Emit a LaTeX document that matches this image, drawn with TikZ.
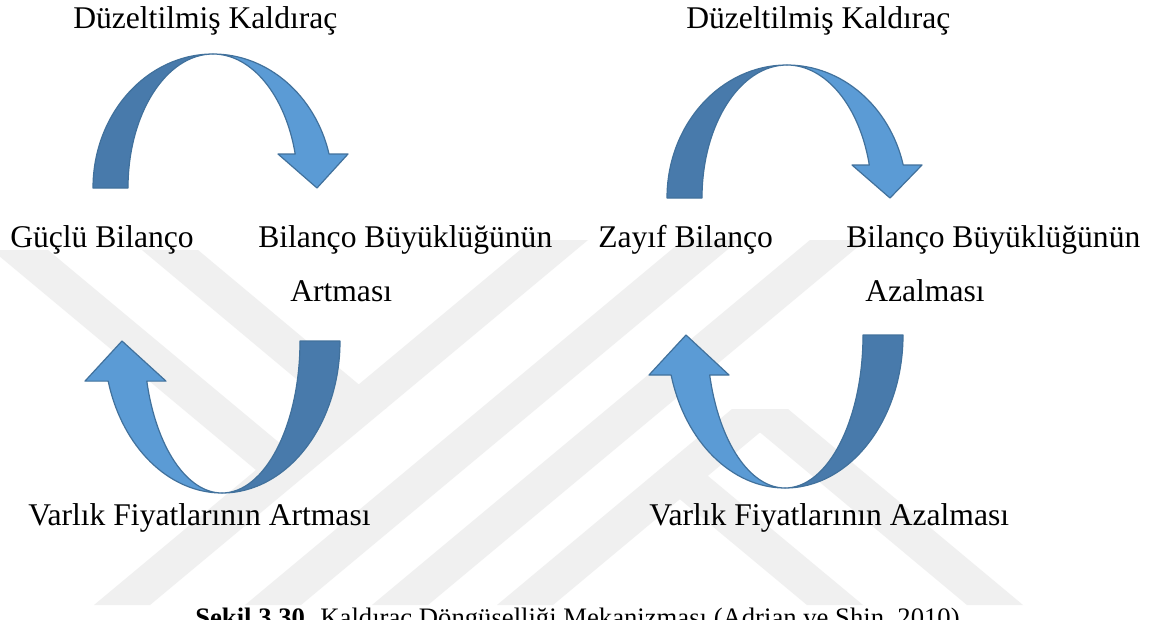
\documentclass[tikz,border=0pt]{standalone}
\usepackage{fontspec}
\setmainfont{Liberation Serif}
\usetikzlibrary{calc}

\definecolor{arrowlight}{HTML}{5B9BD5}
\definecolor{arrowdark}{HTML}{487AAB}
\definecolor{arrowline}{HTML}{41719C}
\newcommand{\lblfont}{\fontsize{23.7}{28}\selectfont}
\newcommand{\capfont}{\fontsize{20}{24}\selectfont}

\begin{document}
\begin{tikzpicture}[x=0.75pt, y=-0.75pt, font=\lblfont,
  darkband/.style={fill=arrowdark, draw=arrowline, line width=0.9pt, line join=round},
  lightband/.style={fill=arrowlight, draw=arrowline, line width=0.9pt, line join=round},
  wmband/.style={fill=black!6},
  lbl/.style={anchor=base west, inner sep=0pt}]
  \useasboundingbox (0,0) rectangle (1159,619);
  \fill[white] (0,0) rectangle (1159,619);

  % faint watermark
  \foreach \xa/\ya/\xb/\yb in {122/605/560/240, 273/605/711/240, 400/605/838/240,
      525/605/760/409, 760/409/995/605, 680/476/835/605, 20/250/284/470, 170/250/359/408}
    \fill[wmband] (\xa-28,\ya) -- (\xa+28,\ya) -- (\xb+28,\yb) -- (\xb-28,\yb) -- cycle;

  \coordinate (TL) at (213,188);
  \coordinate (TR) at (787,198);
  \coordinate (BL) at (222,341);
  \coordinate (BR) at (785,335);

  % upper arrows
  \draw[darkband] ($(TL)+(-120,0)$) arc[start angle=180, end angle=270, x radius=120, y radius=134]
    arc[start angle=270, end angle=180, x radius=85, y radius=134] -- cycle;
  \draw[lightband] ($(TL)+(0,-134)$) arc[start angle=270, end angle=345.3, x radius=120, y radius=134]
    -- ($(TL)+(135,-34)$) -- ($(TL)+(104,0)$) -- ($(TL)+(65,-34)$) -- ($(TL)+(82.2,-34)$)
    arc[start angle=345.3, end angle=270, x radius=85, y radius=134] -- cycle;

  \draw[darkband] ($(TR)+(-120,0)$) arc[start angle=180, end angle=270, x radius=120, y radius=133]
    arc[start angle=270, end angle=180, x radius=85, y radius=133] -- cycle;
  \draw[lightband] ($(TR)+(0,-133)$) arc[start angle=270, end angle=345.63, x radius=120, y radius=133]
    -- ($(TR)+(135,-33)$) -- ($(TR)+(103,0)$) -- ($(TR)+(65,-33)$) -- ($(TR)+(82.3,-33)$)
    arc[start angle=345.63, end angle=270, x radius=85, y radius=133] -- cycle;

  % lower arrows
  \draw[darkband] ($(BL)+(118,0)$) arc[start angle=0, end angle=90, x radius=118, y radius=152]
    arc[start angle=90, end angle=0, x radius=78, y radius=152] -- cycle;
  \draw[lightband] ($(BL)+(0,152)$) arc[start angle=90, end angle=164.7, x radius=118, y radius=152]
    -- ($(BL)+(-137,40.1)$) -- ($(BL)+(-100,0)$) -- ($(BL)+(-56,40.1)$) -- ($(BL)+(-75.2,40.1)$)
    arc[start angle=164.7, end angle=90, x radius=78, y radius=152] -- cycle;

  \draw[darkband] ($(BR)+(118,0)$) arc[start angle=0, end angle=90, x radius=118, y radius=153]
    arc[start angle=90, end angle=0, x radius=78, y radius=153] -- cycle;
  \draw[lightband] ($(BR)+(0,153)$) arc[start angle=90, end angle=164.84, x radius=118, y radius=153]
    -- ($(BR)+(-136,40)$) -- ($(BR)+(-99,0)$) -- ($(BR)+(-56,40)$) -- ($(BR)+(-75.3,40)$)
    arc[start angle=164.84, end angle=90, x radius=78, y radius=153] -- cycle;

  % labels
  \node[lbl] (dkleft) at (73,28) {Düzeltilmiş Kaldıraç};
  \node[lbl] (dkright) at (686,28) {Düzeltilmiş Kaldıraç};
  \node[lbl] (guclu) at (10,247) {Güçlü Bilanço};
  \node[lbl] (buyukA) at (258,247) {Bilanço Büyüklüğünün};
  \node[lbl] (artmasi) at (290,301) {Artması};
  \node[lbl] (zayif) at (598,247) {Zayıf Bilanço};
  \node[lbl] (buyukB) at (846,247) {Bilanço Büyüklüğünün};
  \node[lbl] (azalmasi) at (865,301) {Azalması};
  \node[lbl] (varlikA) at (28,525) {Varlık Fiyatlarının Artması};
  \node[lbl] (varlikB) at (649,525) {Varlık Fiyatlarının Azalması};
  \node[lbl, font=\capfont] (caption) at (195,626)
    {\textbf{Şekil 3.30.} Kaldıraç Döngüselliği Mekanizması (Adrian ve Shin, 2010)};
\end{tikzpicture}
\end{document}
